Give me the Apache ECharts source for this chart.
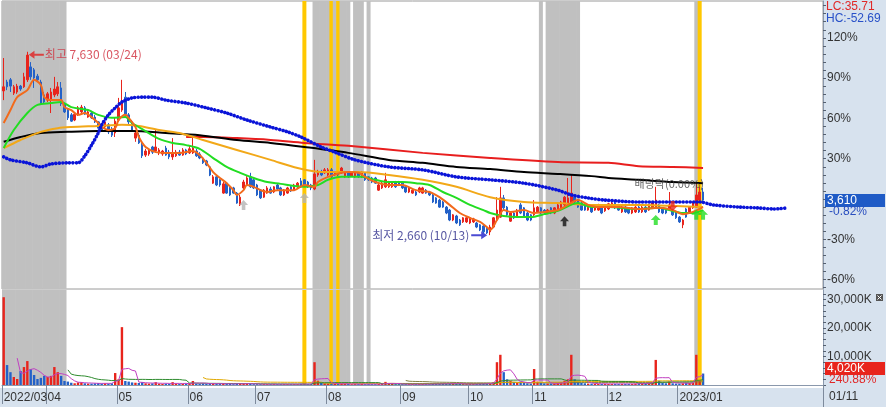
<!DOCTYPE html>
<html><head><meta charset="utf-8">
<script src="https://cdn.jsdelivr.net/npm/echarts@6/dist/echarts.min.js"></script>
<style>html,body{margin:0;padding:0;background:#fff}#c{width:886px;height:407px}</style>
</head><body><div id="c"></div>
<script>
// ---------- DATA ----------
const firstDay = '2022-03-15', lastAxisDay = '2023-03-06';
const holidays = ['2022-05-05','2022-06-01','2022-06-06','2022-08-15','2022-09-09','2022-09-12','2022-10-03','2022-10-10','2022-12-30','2023-01-23','2023-01-24','2023-03-01'];
const basePrice = 3640;

const opens = [6570,6810,6870,6510,6540,6700,6680,6870,7220,7140,
6970,6810,6460,6320,6320,6460,6490,6650,6220,6050,
5920,5780,5920,6000,6110,5860,5970,5860,5730,5650,
5590,5650,5540,5430,5780,6050,6400,5920,5730,5290,
5370,5100,4830,4860,5050,4940,4890,4860,5020,4910,
4780,4810,4910,4830,4970,4890,4890,4940,4860,4750,
4670,4510,4070,4240,4160,3800,4070,3970,3940,3800,
3480,3940,4020,4240,4160,4020,3880,3690,3800,3910,
3830,4020,3940,3750,3800,3970,3880,3970,4130,4160,
4100,4020,3910,4290,4370,4350,4290,4430,4290,4370,
4350,4240,4350,4260,4240,4350,4240,4350,4240,4210,
4210,3880,3940,3970,3970,3970,4100,4100,4070,3970,
3830,3800,3830,3830,3800,3880,3830,3750,3670,3610,
3560,3420,3340,3070,3180,3070,3020,3020,2990,3020,
2990,2940,2910,2850,2750,2880,3070,3150,3670,3420,
3040,3260,3150,3480,3400,3260,3210,3210,3290,3400,
3340,3260,3400,3260,3340,3400,3480,3530,3530,3690,
3610,3530,3480,3340,3420,3340,3340,3400,3320,3370,
3420,3530,3480,3290,3420,3400,3260,3290,3420,3290,
3420,3340,3400,3420,3480,3400,3340,3370,3340,3260,
3150,2940,3370,3290,3400,3420,3610,3830];
const closes = [6680,6680,6700,6680,6700,6620,6950,7540,6950,6920,
6870,6240,6270,6490,6540,6620,6680,6220,6000,5840,
5750,5940,6110,6130,5940,6000,5840,5730,5560,5510,
5730,5460,5370,5750,6110,6270,5940,5730,5510,5430,
5160,4810,4940,4970,4910,5050,4970,4940,4830,4780,
4890,4910,4830,4970,4860,5000,5020,4810,4750,4620,
4560,4290,4240,4020,4020,4050,3800,3750,3800,3530,
3690,4100,4210,3970,3940,3750,3670,3880,3940,3800,
3970,3910,3750,3880,3940,3860,4020,4070,3970,3990,
3970,3940,4320,4370,4290,4430,4430,4240,4350,4290,
4480,4370,4240,4350,4350,4240,4370,4160,4160,4100,
4070,4020,4070,4160,4100,4070,3970,4020,3940,3830,
3940,3880,3750,3940,3940,3800,3750,3560,3530,3420,
3420,3260,3070,3210,2990,2940,3130,3130,3130,3100,
2880,2800,2750,2720,2880,3130,3340,3670,3400,3210,
3260,3130,3340,3260,3180,3070,3070,3400,3420,3260,
3260,3340,3260,3400,3480,3560,3690,3670,3800,3560,
3420,3340,3340,3420,3290,3450,3480,3260,3450,3510,
3530,3400,3340,3420,3290,3260,3400,3420,3290,3420,
3290,3480,3530,3610,3290,3260,3260,3480,3210,3130,
3020,3070,3150,3420,3530,3750,3830,3610];
const lows = [6320,6590,6540,6460,6490,6570,6650,6810,6870,6650,
6810,6220,6220,6270,5970,6400,6430,6160,5970,5780,
5730,5750,5890,5970,5920,5840,5810,5700,5540,5480,
5560,5400,5320,5320,5730,6000,5890,5670,5480,5190,
5130,4750,4780,4810,4860,4910,4830,4810,4810,4720,
4700,4780,4810,4810,4830,4860,4860,4780,4720,4590,
4530,4260,4050,3990,3970,3780,3780,3720,3780,3510,
3450,3880,3990,3940,3910,3720,3640,3670,3780,3780,
3800,3880,3720,3720,3780,3830,3860,3940,3940,3970,
3940,3880,3880,4240,4260,4320,4260,4210,4260,4260,
4320,4210,4210,4240,4210,4210,4210,4130,4130,4070,
4050,3860,3910,3940,3940,3940,3940,3990,3910,3800,
3800,3780,3720,3800,3780,3780,3720,3530,3510,3400,
3400,3230,3040,3040,2960,2910,2990,2990,2960,2990,
2850,2770,2720,2690,2660,2850,3040,3130,3340,3180,
3020,3100,3130,3230,3150,3040,3040,3180,3260,3230,
3230,3230,3230,3230,3320,3370,3450,3510,3510,3530,
3400,3320,3320,3320,3260,3320,3320,3230,3290,3340,
3400,3370,3320,3260,3260,3230,3230,3260,3260,3260,
3260,3320,3370,3400,3260,3230,3230,3340,3180,3100,
2990,2850,3130,3260,3370,3400,3530,3530];
const highs = [7460,6870,6920,6730,6760,6730,7060,7630,7350,7190,
7030,6870,6540,6540,6650,6950,6810,6810,6240,6110,
5970,6000,6160,6190,6160,6050,6030,5920,5750,5700,
5780,5700,5590,5840,6380,6870,6540,5970,5780,5510,
5430,5160,5000,5020,5080,5510,5020,4970,5080,4970,
5290,4970,4970,5020,5000,5100,5320,5000,4910,4780,
4700,4530,4290,4290,4180,4100,4100,3990,3970,3830,
3750,4160,4260,4350,4210,4050,3910,3910,3990,3970,
3990,4070,3970,3910,3970,3990,4050,4100,4210,4180,
4130,4050,4700,4430,4430,4480,4480,4480,4370,4400,
4510,4400,4370,4370,4370,4370,4400,4370,4260,4240,
4240,4050,4100,4350,4130,4100,4130,4130,4100,3990,
3970,3910,3860,3970,3970,3910,3860,3780,3690,3640,
3590,3450,3370,3230,3210,3100,3150,3150,3150,3130,
3020,2960,2940,2880,2940,3150,3690,3970,3750,3450,
3290,3290,3370,3530,3420,3290,3230,3610,3450,3420,
3370,3370,3420,3420,3510,3590,3720,4210,4290,3720,
3640,3560,3510,3450,3450,3480,3510,3420,3480,3530,
3560,3560,3510,3450,3450,3420,3420,3450,3450,3450,
3450,3510,3560,3970,3510,3420,3370,3830,3370,3290,
3180,3100,3400,3450,3560,4070,3970,3940];
const volumesK = [30800,7000,4500,2800,2100,4900,6300,8400,5600,3500,
2100,2500,3200,2800,3200,6300,4500,3200,1400,1200,
800,600,900,1000,600,500,500,600,700,500,
600,500,600,4200,2000,20300,1400,1200,900,800,
700,1000,600,500,600,1000,500,400,500,400,
1000,500,400,400,500,600,1400,500,400,500,
400,600,500,400,400,500,400,400,300,500,
600,500,400,400,300,300,300,300,300,300,
300,300,300,300,300,300,300,300,400,300,
300,300,8000,1500,800,600,500,500,400,400,
500,400,400,300,300,300,400,300,300,300,
300,400,400,1100,500,400,300,300,300,300,
300,300,300,300,300,300,300,400,400,400,
400,500,600,400,500,400,300,300,300,300,
400,400,500,500,700,1000,8000,10600,4500,2000,
1500,1000,800,1200,800,600,500,5600,1200,800,
600,500,500,500,700,1000,1500,2000,10600,2000,
1200,800,600,500,500,400,400,400,400,400,
400,400,400,400,400,400,400,500,500,600,
600,800,1000,8800,1500,800,600,1200,600,500,
500,600,800,700,800,10600,1669,4020];

// moving-average lines: [day index, price]
const ma5Pts = [[0,5700],[2,6050],[4,6400],[7,6590],[9,6870],[11,6730],[12,6400],[14,6320],[17,6320],[18,6130],[20,6050],[22,5920],[24,5970],[26,5860],[28,5700],[29,5590],[31,5510],[33,5560],[34,5780],[36,5920],[37,5840],[39,5590],[40,5320],[42,5050],[45,4910],[48,4890],[52,4890],[56,4940],[58,4830],[60,4620],[62,4370],[64,4210],[66,4070],[68,3880],[69,3750],[71,3880],[72,4020],[74,3970],[76,3880],[78,3830],[81,3880],[84,3880],[86,3880],[89,4020],[92,3970],[93,4100],[96,4240],[100,4350],[102,4370],[105,4350],[107,4240],[110,4100],[114,4020],[118,4020],[122,3880],[126,3830],[129,3690],[132,3480],[135,3260],[138,3130],[141,3020],[143,2880],[144,2800],[146,3070],[148,3340],[150,3290],[154,3340],[157,3260],[160,3290],[164,3340],[167,3480],[170,3610],[173,3480],[176,3420],[182,3420],[188,3370],[194,3400],[198,3340],[201,3230],[204,3290],[207,3420]];
const ma20Pts = [[0,5020],[3,5510],[7,5970],[10,6190],[14,6240],[17,6270],[20,6130],[25,6050],[28,5920],[32,5840],[36,5860],[38,5700],[42,5480],[46,5270],[50,5160],[54,5100],[58,5000],[62,4750],[66,4510],[70,4350],[74,4210],[78,4100],[82,4050],[86,3990],[89,3970],[93,4020],[96,4160],[100,4240],[106,4240],[110,4160],[114,4100],[118,4100],[122,4070],[126,4020],[130,3830],[134,3670],[138,3480],[142,3340],[144,3260],[148,3180],[152,3150],[156,3150],[160,3230],[164,3320],[170,3530],[174,3420],[179,3420],[187,3370],[194,3400],[197,3340],[201,3260],[204,3260],[207,3340]];
const ma60Pts = [[0,5020],[5,5240],[11,5460],[16,5560],[20,5590],[28,5620],[35,5650],[40,5620],[46,5510],[52,5430],[59,5240],[69,4970],[79,4700],[87,4480],[94,4370],[105,4370],[114,4290],[124,4160],[134,3970],[144,3690],[154,3560],[164,3530],[173,3480],[179,3480],[189,3480],[199,3450],[207,3420]];
const ma120Pts = [[0,5190],[5,5320],[11,5430],[19,5460],[28,5480],[38,5480],[48,5430],[58,5370],[69,5240],[79,5160],[89,5050],[102,4890],[114,4700],[124,4620],[134,4510],[144,4450],[154,4370],[164,4320],[174,4260],[179,4210],[188,4160],[198,4100],[207,4070]];
const ma240Pts = [[54,5320],[59,5320],[69,5290],[79,5240],[89,5160],[102,5080],[124,4890],[144,4750],[164,4640],[179,4620],[188,4530],[198,4510],[207,4480]];
const leadSpanPts = [[0,4780],[2,4700],[7,4620],[11,4510],[14,4590],[19,4620],[22,4620],[24,4810],[26,5100],[28,5430],[29,5650],[31,5920],[33,6110],[35,6270],[38,6380],[41,6400],[44,6400],[48,6320],[54,6240],[60,6110],[66,5970],[72,5780],[79,5590],[84,5460],[88,5320],[94,5050],[98,4910],[104,4700],[114,4510],[124,4430],[134,4240],[144,4160],[154,4070],[164,3880],[168,3750],[173,3670],[178,3610],[188,3560],[198,3560],[206,3560],[210,3480],[218,3420],[223,3400],[228,3370],[232,3400]];

const grayBandRanges = [['2022/03/15','2022/04/08'],['2022/07/26','2022/08/09'],['2022/08/11','2022/08/16'],['2022/08/18','2022/08/18'],['2022/11/03','2022/11/03'],['2022/11/07','2022/11/18'],['2023/01/09','2023/01/09']];
const yellowBandDays = ['2022/07/21','2022/08/02','2022/08/04','2023/01/10'];

const grayUpSignals = [['2022/06/27',3480],['2022/07/21',3670]];
const blackUpSignals = [['2022/11/14',3040]];
const greenUpSignals = [['2022/12/21',3070],['2023/01/09',3210],['2023/01/11',3210]];
const redDownSignals = [['2022/12/28',3450]];
const highNote = ['2022/03/24',7630,'최고 7,630 (03/24)'];
const lowNote = ['2022/10/13',2660,'최저 2,660 (10/13)'];
const exDivNote = ['2022/12/27',4050,'배당락(0.00%)'];
const volumeRatioText = '240.88%';
const cursorDateText = '01/11';

// ---------- BUILD ----------
function tradingDays(start,end,hol){
  const out=[]; const d=new Date(start+'T00:00:00Z'); const e=new Date(end+'T00:00:00Z');
  while(d<=e){const w=d.getUTCDay(); const s=d.toISOString().slice(0,10);
    if(w!==0&&w!==6&&hol.indexOf(s)<0) out.push(s.replace(/-/g,'/'));
    d.setUTCDate(d.getUTCDate()+1);}
  return out;
}
const cats = tradingDays(firstDay,lastAxisDay,holidays);
const nData = closes.length;
const idx = d => cats.indexOf(d);
const UP='#e8241c', DOWN='#2361c8';
function monthStart(i){return i<nData && (i===0 || cats[i].slice(0,7)!==cats[i-1].slice(0,7));}

const ohlc = opens.map((o,i)=>[o,closes[i],lows[i],highs[i]]);
const bandItems = cats.map(()=> '-');
grayBandRanges.forEach(r=>{for(let i=idx(r[0]);i<=idx(r[1]);i++) bandItems[i]={value:1,itemStyle:{color:'#c0c0c0'}};});
yellowBandDays.forEach(d=>{bandItems[idx(d)]={value:1,itemStyle:{color:'#ffc800'}};});

const volItems = volumesK.map((v,i)=>({value:v,itemStyle:{color: closes[i]>=opens[i]?UP:DOWN}}));
function mavg(arr,n){return arr.map((v,i)=> i<n-1?'-':Math.round(arr.slice(i-n+1,i+1).reduce((a,b)=>a+b,0)/n));}

const lastClose = closes[nData-1];
const minLow = Math.min(...lows), maxHigh = Math.max(...highs);
const lcText = 'LC:'+((lastClose/minLow-1)*100).toFixed(2);
const hcText = 'HC:'+((lastClose/maxHigh-1)*100).toFixed(2);
const pctText = ((lastClose/basePrice-1)*100).toFixed(2)+'%';
const fmt = n => n.toLocaleString('en-US');

const pctLabelVals = [-60,-30,30,60,90,120].map(p=>basePrice*(1+p/100));
const pctTickVals = []; for(let k=-11;k<=24;k++) pctTickVals.push(basePrice*(1+k*0.06));
const volTickVals = []; for(let v=0;v<=32000;v+=2000) volTickVals.push(v);

const FONT = "'Liberation Sans','Noto Sans CJK KR',sans-serif";
const KFONT = "'Noto Sans CJK KR','Liberation Sans',sans-serif";
const ARROW_UP='path://M5 0L10 5L7 5L7 10L3 10L3 5L0 5Z';
const ARROW_DN='path://M3 0L7 0L7 5L10 5L5 10L0 5L3 5Z';
const ARROW_L='path://M0 4L6 0L6 3L16 3L16 5L6 5L6 8Z';
const ARROW_R='path://M16 4L10 0L10 3L0 3L0 5L10 5L10 8Z';

function maLine(name,pts,color,width){return {name,type:'line',xAxisIndex:0,yAxisIndex:0,data:pts,showSymbol:false,smooth:0.3,
  lineStyle:{color,width},z:4,silent:true};}
function sig(data,sym,color,size){return {type:'scatter',xAxisIndex:0,yAxisIndex:0,data,symbol:sym,symbolSize:size,itemStyle:{color},z:6,silent:true};}

const hiddenX = g => ({type:'category',gridIndex:g,data:cats,boundaryGap:true,show:false});

const option = {
  animation:false,
  textStyle:{fontFamily:FONT},
  grid:[{left:2,top:1,width:821,height:288,show:true,borderColor:'#9a9a9a',borderWidth:1,backgroundColor:'transparent'},
        {left:2,top:290,width:821,height:95,show:false}],
  xAxis:[
    hiddenX(0),
    {type:'category',gridIndex:1,data:cats,boundaryGap:true,offset:3,
      axisLine:{show:true,lineStyle:{color:'#8a98ac'}},
      axisTick:{show:true,interval:(i)=>monthStart(i),length:19,lineStyle:{color:'#7d8a9c'}},
      axisLabel:{show:true,interval:(i)=>monthStart(i),align:'left',margin:4,color:'#333',fontSize:12,fontFamily:FONT,
        formatter:(v,i)=> (i===0||v.slice(5,7)==='01')? v.slice(0,7): v.slice(5,7)},
      splitLine:{show:false}},
    hiddenX(0), hiddenX(1)
  ],
  yAxis:[
    {type:'value',gridIndex:0,position:'right',min:1201,max:9006,
      axisLine:{show:true,lineStyle:{color:'#8a98ac'}},
      axisTick:{show:true,customValues:pctTickVals,length:3,lineStyle:{color:'#556070'}},
      axisLabel:{customValues:pctLabelVals,margin:4,color:'#333',fontSize:12,fontFamily:FONT,
        formatter:v=>Math.round((v/basePrice-1)*100)+'%'},
      splitLine:{show:false}},
    {type:'value',gridIndex:1,position:'right',min:0,max:33333,
      axisLine:{show:true,lineStyle:{color:'#8a98ac'}},
      axisTick:{show:true,customValues:volTickVals,length:3,lineStyle:{color:'#556070'}},
      axisLabel:{customValues:[10000,20000,30000],margin:4,color:'#333',fontSize:12,fontFamily:FONT,
        formatter:v=>fmt(v)+'K'},
      splitLine:{show:false}},
    {type:'value',gridIndex:0,min:0,max:1,show:false},
    {type:'value',gridIndex:1,min:0,max:1,show:false}
  ],
  series:[
    {type:'bar',xAxisIndex:2,yAxisIndex:2,data:bandItems,barWidth:4,z:1,silent:true},
    {type:'bar',xAxisIndex:3,yAxisIndex:3,data:bandItems,barWidth:4,z:1,silent:true},
    {type:'candlestick',xAxisIndex:0,yAxisIndex:0,data:ohlc,barWidth:2,z:3,silent:true,
      itemStyle:{color:UP,color0:DOWN,borderColor:UP,borderColor0:DOWN,borderWidth:1}},
    maLine('ma240',ma240Pts,'#e81e1e',2),
    maLine('ma120',ma120Pts,'#000000',2),
    maLine('ma60',ma60Pts,'#f2a818',2),
    maLine('ma20',ma20Pts,'#22dd22',2),
    maLine('ma5',ma5Pts,'#f26a1b',2),
    {name:'lead',type:'line',xAxisIndex:0,yAxisIndex:0,data:leadSpanPts,showSymbol:false,smooth:0.3,z:5,silent:true,
      lineStyle:{color:'#0a14d8',width:3.6,cap:'round',type:[0.01,3.38]}},
    sig(grayUpSignals,ARROW_UP,'#b4b4b4',[9,10]),
    sig(blackUpSignals,ARROW_UP,'#111111',[9,10]),
    sig(greenUpSignals,ARROW_UP,'#22dd22',[10,10]),
    sig(redDownSignals,ARROW_DN,'#e8241c',[10,10]),
    {type:'scatter',xAxisIndex:0,yAxisIndex:0,z:7,silent:true,data:[[highNote[0],highNote[1]]],
      symbol:ARROW_L,symbolSize:[15,8],symbolOffset:[9,3],itemStyle:{color:'#e02020'},
      label:{show:true,position:'right',distance:1,formatter:highNote[2],color:'#d02a3a',fontSize:12,fontFamily:KFONT}},
    {type:'scatter',xAxisIndex:0,yAxisIndex:0,z:7,silent:true,data:[[lowNote[0],lowNote[1]]],
      symbol:ARROW_R,symbolSize:[16,8],symbolOffset:[-11,0],itemStyle:{color:'#1e1ec8'},
      label:{show:true,position:'left',distance:2,formatter:lowNote[2],color:'#2a2a8a',fontSize:12,fontFamily:KFONT}},
    {type:'scatter',xAxisIndex:0,yAxisIndex:0,z:7,silent:true,data:[[exDivNote[0],exDivNote[1]]],
      symbol:'circle',symbolSize:2,itemStyle:{color:'rgba(0,0,0,0)'},
      label:{show:true,position:'inside',formatter:exDivNote[2],color:'#404040',fontSize:11,fontFamily:KFONT}},
    {type:'bar',xAxisIndex:1,yAxisIndex:1,data:volItems,barWidth:2.4,z:3,silent:true},
    {type:'line',xAxisIndex:1,yAxisIndex:1,data:mavg(volumesK,120),showSymbol:false,lineStyle:{color:'#808040',width:1},z:4,silent:true},
    {type:'line',xAxisIndex:1,yAxisIndex:1,data:mavg(volumesK,60),showSymbol:false,lineStyle:{color:'#e0a800',width:1},z:4,silent:true},
    {type:'line',xAxisIndex:1,yAxisIndex:1,data:mavg(volumesK,20),showSymbol:false,lineStyle:{color:'#2e8b2e',width:1},z:4,silent:true},
    {type:'line',xAxisIndex:1,yAxisIndex:1,data:mavg(volumesK,5),showSymbol:false,lineStyle:{color:'#c040c0',width:1},z:4,silent:true}
  ],
  graphic:[
    {type:'rect',shape:{x:823,y:0,width:63,height:407},style:{fill:'#d7e2ee'},z:-10,silent:true},
    {type:'rect',shape:{x:0,y:388,width:886,height:19},style:{fill:'#d7e2ee'},z:-10,silent:true},
    {type:'line',shape:{x1:823.5,y1:388,x2:823.5,y2:407},style:{stroke:'#7d8a9c',lineWidth:1},z:5},
    {type:'text',x:826,y:1,style:{text:lcText,fill:'#e02828',fontSize:12,fontFamily:FONT},z:10},
    {type:'text',x:826,y:13,style:{text:hcText,fill:'#2850c8',fontSize:12,fontFamily:FONT},z:10},
    {type:'rect',shape:{x:825,y:194,width:60,height:13},style:{fill:'#1f5bc6'},z:10},
    {type:'text',x:827,y:194.5,style:{text:fmt(lastClose),fill:'#ffffff',fontSize:12,fontFamily:FONT},z:11},
    {type:'text',x:829,y:206,style:{text:pctText,fill:'#2a4fbf',fontSize:12,fontFamily:FONT},z:11},
    {type:'rect',shape:{x:825,y:362,width:60,height:13},style:{fill:'#e8241c'},z:10},
    {type:'text',x:827,y:362.5,style:{text:fmt(volumesK[nData-1])+'K',fill:'#ffffff',fontSize:12,fontFamily:FONT},z:11},
    {type:'text',x:829,y:374,style:{text:volumeRatioText,fill:'#e02828',fontSize:12,fontFamily:FONT},z:11},
    {type:'text',x:829,y:391,style:{text:cursorDateText,fill:'#333',fontSize:12,fontFamily:FONT},z:11},
    {type:'rect',shape:{x:876,y:294,width:7,height:7},style:{fill:'#555'},z:10},
    {type:'line',shape:{x1:877.5,y1:295.5,x2:881.5,y2:299.5},style:{stroke:'#fff',lineWidth:1},z:11},
    {type:'line',shape:{x1:881.5,y1:295.5,x2:877.5,y2:299.5},style:{stroke:'#fff',lineWidth:1},z:11}
  ]
};
const chart = echarts.init(document.getElementById('c'));
chart.setOption(option);
</script>
</body></html>
